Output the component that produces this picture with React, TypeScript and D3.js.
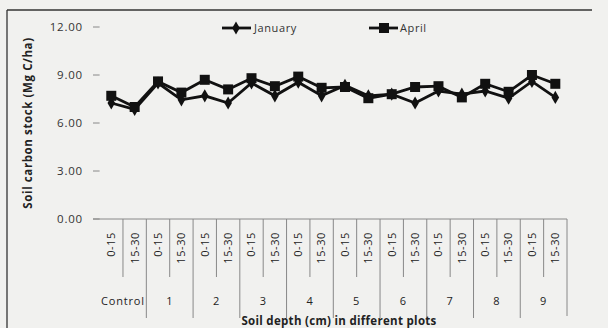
import React from "react"
import * as d3 from "d3"

// plot groups and depth classes on the multi-level x axis
const plots = ["Control", "1", "2", "3", "4", "5", "6", "7", "8", "9"]
const depths = ["0-15", "15-30"]

// soil carbon stock (Mg C/ha), one value per plot x depth
const january = [7.25, 6.85, 8.5, 7.45, 7.7, 7.25, 8.5, 7.7, 8.55, 7.7, 8.35, 7.7, 7.8, 7.25, 8.0, 7.8, 8.0, 7.55, 8.6, 7.6]
const april = [7.7, 7.0, 8.6, 7.9, 8.7, 8.1, 8.8, 8.3, 8.9, 8.2, 8.25, 7.55, 7.8, 8.25, 8.3, 7.6, 8.45, 7.95, 9.0, 8.45]

const yTicks = [0, 3, 6, 9, 12]

const W = 608
const H = 328
const font = "'Open Sans', 'Noto Sans', sans-serif"

export default function App() {
    const cats = plots.flatMap((p) => depths.map((d) => `${p}|${d}`))
    const x = d3.scaleBand<string>().domain(cats).range([99.6, 567]).padding(0)
    const y = d3.scaleLinear().domain([0, 12]).range([219, 27])
    const cx = (i: number) => (x(cats[i]) as number) + x.bandwidth() / 2

    const line = d3
        .line<number>()
        .x((_, i) => cx(i))
        .y((d) => y(d))

    const diamond = d3.symbol().type(d3.symbolDiamond).size(50)
    const fmt = d3.format(".2f")
    const sq = 10

    return (
        <div style={{ position: "fixed", left: 0, top: 0 }}>
            <svg width={W} height={H} style={{ display: "block", background: "#f1f1ef", fontFamily: font }}>
                {/* outer chart frame */}
                <line x1={7} y1={10} x2={592} y2={10} stroke="#333" strokeWidth={1.3} />
                <line x1={7} y1={10} x2={7} y2={H} stroke="#333" strokeWidth={1.3} />

                {/* y axis ticks + labels */}
                {yTicks.map((t) => (
                    <g key={t}>
                        <line x1={93} x2={99.6} y1={y(t)} y2={y(t)} stroke="#888" />
                        <text x={83} y={y(t)} dy="0.35em" textAnchor="end" fontSize={11.5} letterSpacing={0.8} fill="#333">
                            {fmt(t)}
                        </text>
                    </g>
                ))}
                <text
                    transform={`translate(32,${y(6)}) rotate(-90)`}
                    textAnchor="middle"
                    fontSize={11.5}
                    fontWeight="bold"
                    letterSpacing={0.6}
                    fill="#222"
                >
                    Soil carbon stock (Mg C/ha)
                </text>

                {/* x axis baseline and category dividers */}
                <line x1={93} x2={567} y1={y(0)} y2={y(0)} stroke="#888" />
                {cats.map((c, i) => {
                    if (i === 0) return null
                    const xb = x(c) as number
                    const long = i % depths.length === 0
                    return <line key={c} x1={xb} x2={xb} y1={y(0)} y2={long ? 318 : 277} stroke="#888" />
                })}
                <line x1={567} x2={567} y1={y(0)} y2={316} stroke="#888" />

                {/* depth labels */}
                {cats.map((c, i) => (
                    <text
                        key={c}
                        transform={`translate(${cx(i)},232) rotate(-90)`}
                        textAnchor="end"
                        dy="0.35em"
                        fontSize={11}
                        letterSpacing={0.6}
                        fill="#222"
                    >
                        {c.split("|")[1]}
                    </text>
                ))}

                {/* plot group labels */}
                {plots.map((p) => {
                    const x0 = x(`${p}|${depths[0]}`) as number
                    const mid = x0 + x.bandwidth()
                    return (
                        <text key={p} x={mid} y={305} textAnchor="middle" fontSize={11} letterSpacing={0.8} fill="#222">
                            {p}
                        </text>
                    )
                })}
                <text x={339} y={325} textAnchor="middle" fontSize={11.5} fontWeight="bold" letterSpacing={0.3} fill="#222">
                    Soil depth (cm) in different plots
                </text>

                {/* series */}
                <path d={line(january) as string} fill="none" stroke="#111" strokeWidth={2.8} />
                <path d={line(april) as string} fill="none" stroke="#111" strokeWidth={2.8} />
                {january.map((v, i) => (
                    <path key={"j" + i} d={diamond() as string} transform={`translate(${cx(i)},${y(v)})`} fill="#111" />
                ))}
                {april.map((v, i) => (
                    <rect key={"a" + i} x={cx(i) - sq / 2} y={y(v) - sq / 2} width={sq} height={sq} fill="#111" />
                ))}

                {/* legend */}
                <line x1={222} x2={251} y1={28} y2={28} stroke="#111" strokeWidth={2.8} />
                <path d={diamond() as string} transform="translate(236,28)" fill="#111" />
                <text x={254} y={28} dy="0.35em" fontSize={11} letterSpacing={0.6} fill="#333">
                    January
                </text>
                <line x1={369} x2={398} y1={28} y2={28} stroke="#111" strokeWidth={2.8} />
                <rect x={384 - sq / 2} y={28 - sq / 2} width={sq} height={sq} fill="#111" />
                <text x={400} y={28} dy="0.35em" fontSize={11} letterSpacing={0.6} fill="#333">
                    April
                </text>
            </svg>
        </div>
    )
}
